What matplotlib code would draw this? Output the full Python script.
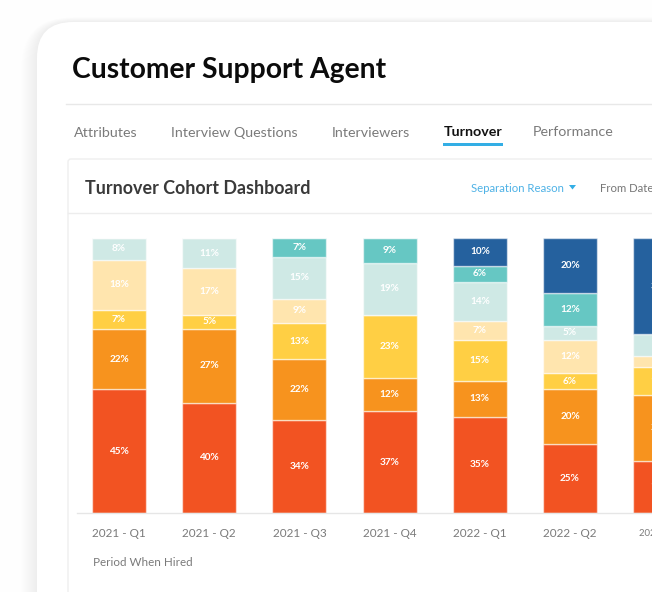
import matplotlib
matplotlib.use("Agg")
import matplotlib.pyplot as plt
from matplotlib.patches import FancyBboxPatch, Polygon, Rectangle
import numpy as np

plt.rcParams['font.family'] = ['Lato', 'DejaVu Sans']

periods = ["2021 - Q1", "2021 - Q2", "2021 - Q3", "2021 - Q4", "2022 - Q1", "2022 - Q2", "2022 - Q3"]
reason_a = [45, 40, 34, 37, 35, 25, 19]
reason_b = [22, 27, 22, 12, 13, 20, 24]
reason_c = [7, 5, 13, 23, 15, 6, 10]
reason_d = [18, 17, 9, 0, 7, 12, 4]
reason_e = [8, 11, 15, 19, 14, 5, 8]
reason_f = [0, 0, 7, 9, 6, 12, 0]
reason_g = [0, 0, 0, 0, 10, 20, 35]
series = [reason_a, reason_b, reason_c, reason_d, reason_e, reason_f, reason_g]
colors = ["#F25322", "#F7931E", "#FFCF44", "#FFE5AE", "#CFE9E5", "#66C7C3", "#25619E"]
tabs = ["Attributes", "Interview Questions", "Interviewers", "Turnover", "Performance"]

W, H = 652, 592
fig = plt.figure(figsize=(W / 100, H / 100), dpi=100, facecolor="#FEFEFE")

# page chrome, in pixel coordinates
bg = fig.add_axes([0, 0, 1, 1], zorder=0)
bg.set_xlim(0, W); bg.set_ylim(H, 0); bg.axis("off")
for grow, alpha in zip(range(16, 0, -1), [.002] * 5 + [.003] * 5 + [.004] * 6):
    bg.add_patch(FancyBboxPatch((37 - grow, 22 - grow * .3), 800, 800,
                                boxstyle=f"round,pad=0,rounding_size={36 + grow}",
                                fc="black", ec="none", alpha=alpha))
bg.add_patch(FancyBboxPatch((37, 22), 800, 800, boxstyle="round,pad=0,rounding_size=36",
                            fc="white", ec="none"))
bg.add_patch(FancyBboxPatch((68, 159), 800, 800, boxstyle="round,pad=0,rounding_size=3",
                            fc="white", ec="#EFEFEF", lw=1))
bg.plot([66, W], [104, 104], color="#E8E8E8", lw=1)
bg.plot([68, W], [213, 213], color="#EDEDED", lw=1)
bg.add_patch(Rectangle((443, 143), 60, 2.5, fc="#33AEE5", ec="none"))
bg.add_patch(Polygon([[569, 185], [576, 185], [572.5, 189.5]], fc="#33AEE5", ec="none"))

bg.text(72, 70, "Customer Support Agent", fontsize=20.3, fontweight="bold", color="#0B0B0B", va="center")
tab_x = [74, 171, 332, 444, 533]
for name, x in zip(tabs, tab_x):
    active = name == "Turnover"
    bg.text(x, 133 if x < 400 else 132, name, fontsize=10.25, va="center",
            color="#111111" if active else "#7A7A7A",
            fontweight="bold" if active else "normal")
bg.text(85, 188.5, "Turnover Cohort Dashboard", fontsize=12.9, fontweight="bold", color="#3A3A3A", va="center")
bg.text(471, 188, "Separation Reason", fontsize=8.2, color="#4FB2E6", va="center")
bg.text(600, 188, "From Date", fontsize=8.2, color="#777777", va="center")
bg.text(93, 563, "Period When Hired", fontsize=8.4, color="#7A7A7A", va="center")

# the chart: 100% maps to the top of the bars, pixel x maps through the axes
left, right, top, bottom = 77, W, 238, 513
ax = fig.add_axes([left / W, 1 - bottom / H, (right - left) / W, (bottom - top) / H], zorder=1)
ax.patch.set_alpha(0)
step = 90.2
x0 = 119
ax.set_xlim((left - x0) / step, (right - x0) / step)
ax.set_ylim(0, 100)
pos = np.arange(len(periods))
base = np.zeros(len(periods))
for vals, col in zip(series, colors):
    vals = np.array(vals, float)
    ax.bar(pos, vals, bottom=base, width=54 / step, color=col,
           edgecolor=(1, 1, 1, .55), linewidth=1)
    for p, v, b in zip(pos, vals, base):
        if v > 0:
            ax.text(p, b + v / 2, f"{int(v)}%", ha="center", va="center",
                    color="white", fontsize=7.2, fontweight="bold", clip_on=True)
    base += vals

for s in ["top", "left", "right"]:
    ax.spines[s].set_visible(False)
ax.spines["bottom"].set_color("#E6E6E6")
ax.spines["bottom"].set_linewidth(1)
ax.set_yticks([])
ax.set_xticks(pos[:-1], periods[:-1], fontsize=8.5, color="#7A7A7A")
ax.tick_params(axis="x", length=0, pad=11)
ax.text(pos[-1], -7.3, periods[-1], ha="center", va="center", fontsize=6.8, color="#7A7A7A", clip_on=False)

fig.savefig("out.png", dpi=100, facecolor=fig.get_facecolor())
